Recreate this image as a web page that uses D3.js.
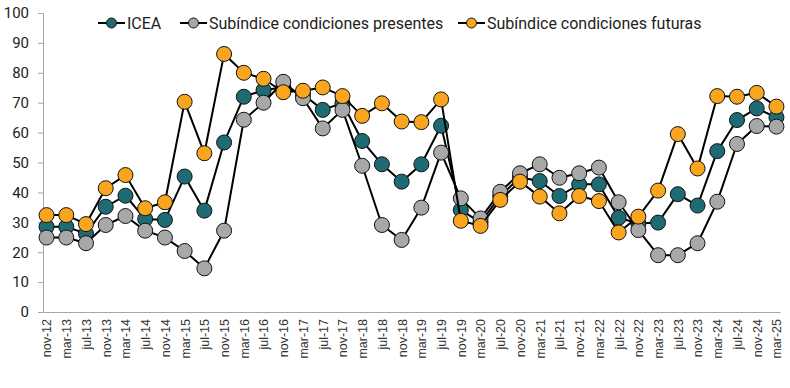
<!DOCTYPE html>
<html>
<head>
<meta charset="utf-8">
<script src="https://cdn.jsdelivr.net/npm/d3@7"></script>
<style>
  body { margin: 0; background: #fff; }
  svg { display: block; }
</style>
</head>
<body>
<svg id="chart" width="790" height="388"></svg>
<script>
// Periodos (cuatrimestral)
const periods = ["nov-12","mar-13","jul-13","nov-13","mar-14","jul-14","nov-14","mar-15","jul-15","nov-15",
  "mar-16","jul-16","nov-16","mar-17","jul-17","nov-17","mar-18","jul-18","nov-18","mar-19",
  "jul-19","nov-19","mar-20","jul-20","nov-20","mar-21","jul-21","nov-21","mar-22","jul-22",
  "nov-22","mar-23","jul-23","nov-23","mar-24","jul-24","nov-24","mar-25"];

const icea = [28.5, 28.5, 26.2, 35.2, 38.9, 31.1, 30.8, 45.3, 33.9, 56.7,
  72.0, 74.2, 75.2, 72.8, 67.6, 69.9, 57.2, 49.4, 43.6, 49.4,
  62.3, 34.1, 30.0, 38.8, 45.0, 43.8, 38.8, 42.7, 42.7, 31.5,
  29.6, 29.9, 39.4, 35.6, 53.8, 64.2, 68.1, 65.1];

const presentes = [24.9, 24.9, 23.0, 29.1, 32.1, 27.2, 24.9, 20.4, 14.6, 27.2,
  64.3, 70.0, 77.0, 71.5, 61.4, 67.6, 48.9, 29.1, 24.1, 34.9,
  53.3, 38.0, 31.3, 40.2, 46.4, 49.4, 44.9, 46.4, 48.3, 36.7,
  27.4, 19.0, 19.0, 23.0, 36.9, 56.2, 62.2, 62.0];

const futuras = [32.4, 32.4, 29.4, 41.4, 45.8, 34.7, 36.7, 70.3, 53.1, 86.3,
  80.0, 78.0, 73.5, 74.0, 75.1, 72.2, 65.6, 69.8, 63.7, 63.5,
  71.1, 30.5, 28.8, 37.5, 43.6, 38.6, 33.0, 38.8, 37.1, 26.6,
  31.9, 40.6, 59.5, 48.0, 72.2, 72.0, 73.3, 68.7];

const seriesNames = ["ICEA", "Subíndice condiciones presentes", "Subíndice condiciones futuras"];
const seriesColors = ["#1e6b74", "#a8a8a8", "#f9a520"];
const yTicks = d3.range(0, 101, 10);

const series = [icea, presentes, futuras].map((vals, i) => ({
  name: seriesNames[i], color: seriesColors[i], values: vals
}));

const svg = d3.select("#chart");
const width = 790, height = 388;
const marginLeft = 43, marginRight = 10, marginTop = 13, marginBottom = 76;

const x = d3.scalePoint().domain(periods).range([marginLeft, width - marginRight]).padding(0.18);
const y = d3.scaleLinear().domain([0, 100]).range([height - marginBottom, marginTop]);

// eje Y
const yAxis = svg.append("g")
  .attr("transform", `translate(${marginLeft},0)`)
  .call(d3.axisLeft(y).tickValues(yTicks).tickSize(5).tickSizeOuter(5).tickPadding(9));
yAxis.select(".domain").attr("stroke", "#a6a6a6");
yAxis.selectAll(".tick line").attr("stroke", "#a6a6a6");
yAxis.selectAll(".tick text")
  .attr("fill", "#222")
  .attr("font-family", "Roboto, sans-serif")
  .attr("font-size", 15);

// eje X
const xAxis = svg.append("g")
  .attr("transform", `translate(0,${y(0)})`)
  .call(d3.axisBottom(x).tickSize(0).tickSizeOuter(0));
xAxis.select(".domain").attr("stroke", "#a6a6a6");
xAxis.selectAll(".tick text")
  .attr("fill", "#333")
  .attr("font-family", "'Liberation Sans', Arial, sans-serif")
  .attr("font-size", 12.5)
  .attr("text-anchor", "end")
  .attr("transform", "rotate(-90)")
  .attr("x", -7)
  .attr("y", 0)
  .attr("dy", "0.35em");

// series
const line = d3.line()
  .x((d, i) => x(periods[i]))
  .y(d => y(d));

series.forEach(s => {
  const g = svg.append("g");
  g.append("path")
    .attr("d", line(s.values))
    .attr("fill", "none")
    .attr("stroke", "#000")
    .attr("stroke-width", 2)
    .attr("stroke-linejoin", "round");
  g.selectAll("circle")
    .data(s.values)
    .enter()
    .append("circle")
      .attr("cx", (d, i) => x(periods[i]))
      .attr("cy", d => y(d))
      .attr("r", 7.5)
      .attr("fill", s.color)
      .attr("stroke", "#111")
      .attr("stroke-width", 1);
});

// leyenda
const legendX = [98, 180, 458];
const legend = svg.append("g").attr("transform", "translate(0,23)");
series.forEach((s, i) => {
  const item = legend.append("g").attr("transform", `translate(${legendX[i]},0)`);
  item.append("line")
    .attr("x1", 0).attr("x2", 27)
    .attr("stroke", "#000").attr("stroke-width", 2);
  item.append("circle")
    .attr("cx", 13.5).attr("r", 5)
    .attr("fill", s.color).attr("stroke", "#111").attr("stroke-width", 1);
  item.append("text")
    .attr("x", 29)
    .attr("dy", "0.35em")
    .attr("fill", "#222")
    .attr("font-family", "Roboto, sans-serif")
    .attr("font-size", 16)
    .text(s.name);
});
</script>
</body>
</html>
